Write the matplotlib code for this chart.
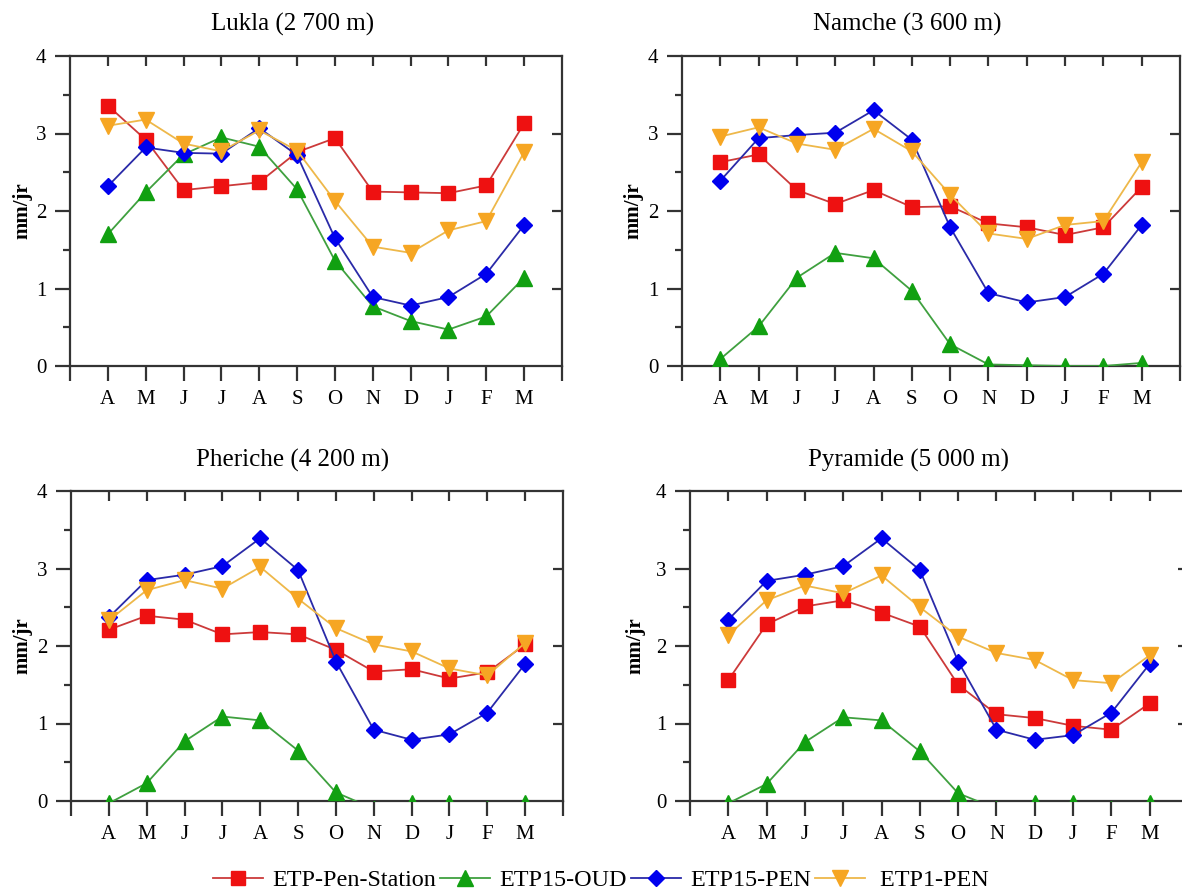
import numpy as np
import matplotlib
matplotlib.use("Agg")
from matplotlib import pyplot as plt
from matplotlib.lines import Line2D

plt.rcParams["font.family"] = ["Liberation Serif", "DejaVu Serif"]

months = ["A", "M", "J", "J", "A", "S", "O", "N", "D", "J", "F", "M"]
stations = ["Lukla (2 700 m)", "Namche (3 600 m)",
            "Pheriche (4 200 m)", "Pyramide (5 000 m)"]
series_names = ["ETP-Pen-Station", "ETP15-OUD", "ETP15-PEN", "ETP1-PEN"]

# monthly evapotranspiration (mm/jr), April to March
lukla_station = [3.36, 2.92, 2.27, 2.32, 2.37, 2.76, 2.94, 2.25, 2.24, 2.23, 2.33, 3.13]
lukla_oud = [1.70, 2.24, 2.73, 2.95, 2.83, 2.28, 1.36, 0.77, 0.58, 0.47, 0.64, 1.14]
lukla_pen15 = [2.32, 2.82, 2.75, 2.74, 3.07, 2.72, 1.65, 0.89, 0.78, 0.89, 1.19, 1.82]
lukla_pen1 = [3.10, 3.18, 2.87, 2.77, 3.04, 2.78, 2.13, 1.54, 1.46, 1.75, 1.87, 2.76]

namche_station = [2.63, 2.73, 2.27, 2.09, 2.27, 2.05, 2.06, 1.84, 1.79, 1.69, 1.79, 2.31]
namche_oud = [0.09, 0.51, 1.14, 1.46, 1.39, 0.97, 0.28, 0.02, 0.01, 0.00, 0.00, 0.04]
namche_pen15 = [2.39, 2.94, 2.98, 3.01, 3.30, 2.92, 1.79, 0.94, 0.82, 0.89, 1.19, 1.82]
namche_pen1 = [2.96, 3.08, 2.87, 2.79, 3.06, 2.77, 2.21, 1.71, 1.64, 1.82, 1.87, 2.63]

pheriche_station = [2.21, 2.39, 2.34, 2.15, 2.18, 2.15, 1.95, 1.67, 1.70, 1.58, 1.66, 2.02]
pheriche_oud = [-0.03, 0.23, 0.77, 1.09, 1.04, 0.65, 0.11, -0.10, -0.03, -0.03, -0.10, -0.03]
pheriche_pen15 = [2.37, 2.85, 2.92, 3.03, 3.39, 2.98, 1.80, 0.92, 0.79, 0.86, 1.14, 1.77]
pheriche_pen1 = [2.33, 2.72, 2.85, 2.74, 3.02, 2.61, 2.23, 2.02, 1.93, 1.71, 1.62, 2.04]

pyramide_station = [1.56, 2.28, 2.51, 2.59, 2.43, 2.25, 1.50, 1.12, 1.07, 0.97, 0.92, 1.26]
pyramide_oud = [-0.03, 0.22, 0.76, 1.08, 1.04, 0.64, 0.10, -0.10, -0.03, -0.03, -0.10, -0.03]
pyramide_pen15 = [2.34, 2.84, 2.92, 3.03, 3.39, 2.98, 1.80, 0.92, 0.79, 0.85, 1.14, 1.77]
pyramide_pen1 = [2.14, 2.59, 2.78, 2.68, 2.91, 2.50, 2.12, 1.91, 1.82, 1.56, 1.52, 1.88]

panels = [
    [lukla_station, lukla_oud, lukla_pen15, lukla_pen1],
    [namche_station, namche_oud, namche_pen15, namche_pen1],
    [pheriche_station, pheriche_oud, pheriche_pen15, pheriche_pen1],
    [pyramide_station, pyramide_oud, pyramide_pen15, pyramide_pen1],
]

marker_colors = ["#ee1111", "#11a011", "#0000ee", "#f6a623"]
line_colors = ["#cc3a3a", "#3fa03f", "#2a2aa8", "#eeb84a"]
markers = ["s", "^", "D", "v"]
msizes = [10, 11, 8.5, 11]

W, H = 1182.0, 894.0
# axes boxes in pixels: left, top, right, bottom
boxes = [(70, 56, 562, 366), (682, 56, 1180, 366),
         (71, 491, 563, 801), (690, 491, 1188, 801)]
title_pos = [(293, 24), (907, 24), (293, 460), (908, 460)]
ylabel_x = [22, 633, 22, 635]

fig = plt.figure(figsize=(W / 100, H / 100), dpi=100)
x = np.arange(12)
spine_col = "#333333"

for k in range(4):
    l, t, r, b = boxes[k]
    ax = fig.add_axes([l / W, 1 - b / H, (r - l) / W, (b - t) / H])
    for i in range(4):
        ax.plot(x, panels[k][i], color=line_colors[i], lw=1.3, zorder=2 + i)
        ax.plot(x, panels[k][i], linestyle="none", marker=markers[i],
                ms=msizes[i], color=marker_colors[i], mec=marker_colors[i],
                zorder=3 + i)
    ax.set_xlim(-1, 12)
    ax.set_ylim(0, 4)
    for s in ax.spines.values():
        s.set_color(spine_col)
        s.set_linewidth(1.6)

    ax.set_xticks(np.arange(-1, 13))
    ax.set_xticklabels([""] + months + [""], fontsize=15)
    ax.tick_params(axis="x", which="major", direction="out", length=11,
                   width=1.6, color=spine_col, pad=6, top=False)
    ax.set_yticks([0, 1, 2, 3, 4])
    ax.set_yticklabels(["0", "1", "2", "3", "4"], fontsize=15)
    ax.set_yticks(np.arange(0.5, 4, 1.0), minor=True)
    ax.tick_params(axis="y", which="major", direction="out", length=11,
                   width=1.6, color=spine_col, pad=6)
    ax.tick_params(axis="y", which="minor", direction="out", length=5,
                   width=1.6, color=spine_col)

    # inward ticks on the top and right edges
    ax_top = ax.secondary_xaxis("top")
    ax_top.set_xticks(x)
    ax_top.tick_params(direction="in", length=7, width=1.6, color=spine_col,
                       labeltop=False)
    ax_top.spines["top"].set_visible(False)
    ax_right = ax.secondary_yaxis("right")
    ax_right.set_yticks([1, 2, 3])
    ax_right.tick_params(direction="in", length=7, width=1.6, color=spine_col,
                         labelright=False)
    ax_right.spines["right"].set_visible(False)

    tx, ty = title_pos[k]
    fig.text(tx / W, 1 - ty / H, stations[k], ha="center", va="center",
             fontsize=18)
    fig.text(ylabel_x[k] / W, 1 - ((t + b) / 2) / H, "mm/jr", rotation=90,
             ha="center", va="center", fontsize=15, fontweight="bold")

handles = []
for i in range(4):
    handles.append(Line2D([0], [0], color=line_colors[i], lw=1.3,
                          marker=markers[i], ms=msizes[i],
                          mfc=marker_colors[i], mec=marker_colors[i]))
labels = series_names[:3] + [" " + series_names[3]]
fig.legend(handles, labels, loc="center", bbox_to_anchor=(601 / W, 1 - 880 / H),
           ncol=4, frameon=False, fontsize=17.4, handlelength=2.08,
           handletextpad=0.37, columnspacing=0.17, borderpad=0)

fig.savefig("out.png", dpi=100)
